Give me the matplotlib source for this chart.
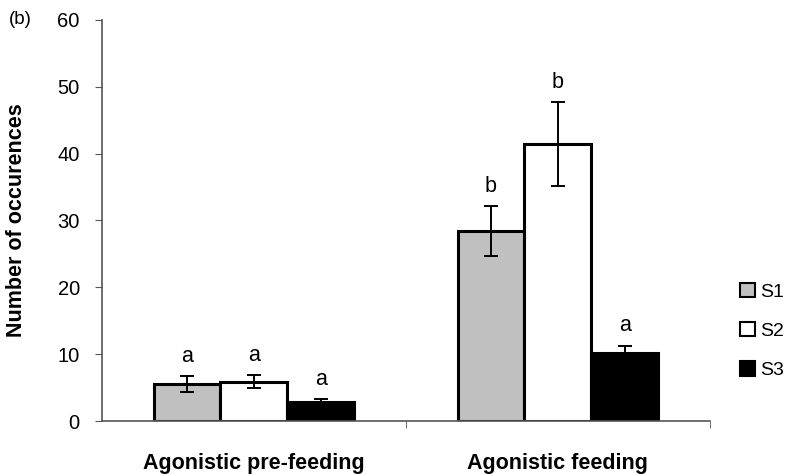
import matplotlib
matplotlib.use("Agg")
import matplotlib.pyplot as plt
import numpy as np
from matplotlib.patches import Patch

categories = ["Agonistic pre-feeding", "Agonistic feeding"]
series = ["S1", "S2", "S3"]
s1 = [5.5, 28.4]
s2 = [5.9, 41.4]
s3 = [2.9, 10.1]
s1_err = [1.2, 3.75]
s2_err = [0.95, 6.25]
s3_err = [0.35, 1.15]
letters = [["a", "b"], ["a", "b"], ["a", "a"]]

colors = ["#c0c0c0", "white", "black"]

plt.rcParams['font.family'] = ['Liberation Sans', 'DejaVu Sans']

fig = plt.figure(figsize=(7.93, 4.74), dpi=100)
ax = fig.add_axes([0.1286, 0.1118, 0.7664, 0.8462])

x = np.arange(len(categories))
w = 0.22
vals = [s1, s2, s3]
errs = [s1_err, s2_err, s3_err]
for i, (v, e, c) in enumerate(zip(vals, errs, colors)):
    pos = x + (i - 1) * w
    ax.bar(pos, v, w, color=c, edgecolor="black", linewidth=2.2, zorder=2)
    ax.errorbar(pos, v, yerr=e, fmt="none", ecolor="black", elinewidth=1.4,
                capsize=5, capthick=1.4, zorder=3)
    for j in range(len(categories)):
        ax.text(pos[j], v[j] + e[j] + 1.4, letters[i][j], ha="center",
                va="bottom", fontsize=15.5)

ax.set_xlim(-0.5, 1.5)
ax.set_ylim(0, 60)
ax.set_yticks(range(0, 61, 10))
ax.tick_params(axis="y", labelsize=14.5, length=5, color="#555555", pad=11)
ax.set_xticks(x)
ax.set_xticklabels(categories, fontsize=15.5, fontweight="bold")
ax.tick_params(axis="x", which="major", length=0, pad=23)
ax.set_xticks([0.5, 1.5], minor=True)
ax.tick_params(axis="x", which="minor", length=5, color="#555555")

for side in ["top", "right"]:
    ax.spines[side].set_visible(False)
for side in ["left", "bottom"]:
    ax.spines[side].set_color("#555555")
    ax.spines[side].set_linewidth(1.2)

ax.set_ylabel("Number of occurences", fontsize=15.5, fontweight="bold", labelpad=22)
fig.text(0.011, 0.958, "(b)", fontsize=13.5, va="center")

handles = [Patch(facecolor=c, edgecolor="black", linewidth=1.5) for c in colors]
fig.legend(handles, series, loc="center left", bbox_to_anchor=(0.911, 0.3017),
           frameon=False, fontsize=14, handlelength=0.75, handleheight=0.75,
           handletextpad=0.3, labelspacing=1.1)

fig.savefig("out.png", dpi=100)
